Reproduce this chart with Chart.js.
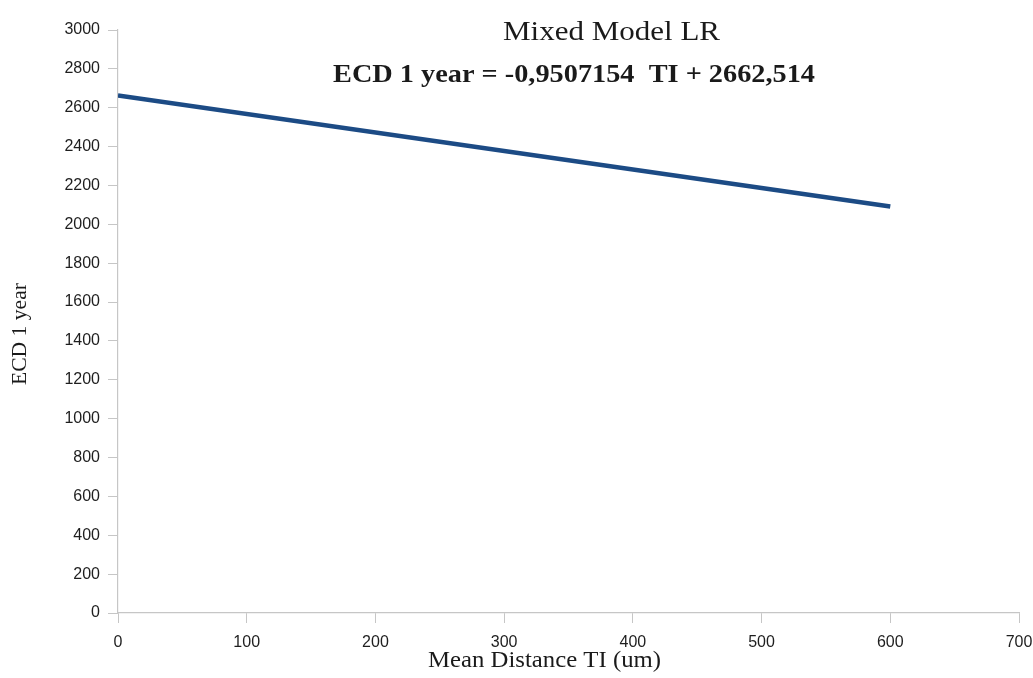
<!DOCTYPE html>
<html>
<head>
<meta charset="utf-8">
<title>Mixed Model LR</title>
<script src="https://cdn.jsdelivr.net/npm/chart.js@4/dist/chart.umd.min.js"></script>
<style>
  html, body { margin: 0; padding: 0; background: #ffffff; }
  #wrap { width: 1033px; height: 678px; }
</style>
</head>
<body>
<div id="wrap"><canvas id="chart" width="1033" height="678"></canvas></div>
<script>
// Fitted regression line: ECD 1 year vs mean distance TI (um)
const distanceTI = [0, 600];
const ecdOneYear = [2662.514, 2092.085];

const xTickStep = 100, xMax = 700;
const yTickStep = 200, yMax = 3000;

const chartTitle = 'Mixed Model LR';
const equationText = 'ECD 1 year = -0,9507154  TI + 2662,514';
const xAxisTitle = 'Mean Distance TI (um)';
const yAxisTitle = 'ECD 1 year';

const serif = '"Liberation Serif", "Times New Roman", serif';
const axisGrey = '#c6c6c6';

// Draw text horizontally scaled so it spans a given width
function drawSpanned(ctx, text, font, cx, baseline, span) {
  ctx.save();
  ctx.font = font;
  const w = ctx.measureText(text).width;
  const sx = span / w;
  ctx.translate(cx, baseline);
  ctx.scale(sx, 1);
  ctx.textAlign = 'center';
  ctx.textBaseline = 'alphabetic';
  ctx.fillText(text, 0, 0);
  ctx.restore();
}

const textPlugin = {
  id: 'chartTexts',
  afterDraw(chart) {
    const ctx = chart.ctx;
    ctx.save();
    ctx.fillStyle = '#1a1a1a';
    drawSpanned(ctx, chartTitle, '28px ' + serif, 611.5, 40, 217);
    drawSpanned(ctx, equationText, 'bold 25px ' + serif, 574, 82, 482);
    drawSpanned(ctx, xAxisTitle, '24px ' + serif, 544.5, 667, 233);
    // vertical axis title
    ctx.save();
    ctx.translate(26, 334);
    ctx.rotate(-Math.PI / 2);
    ctx.font = '20px ' + serif;
    const w = ctx.measureText(yAxisTitle).width;
    ctx.scale(102 / w, 1);
    ctx.textAlign = 'center';
    ctx.textBaseline = 'alphabetic';
    ctx.fillText(yAxisTitle, 0, 0);
    ctx.restore();
    ctx.restore();
  }
};

const tickFont = { family: '"Liberation Sans", Arial, sans-serif', size: 16 };
const plainLabel = (v) => String(v);

new Chart(document.getElementById('chart'), {
  type: 'scatter',
  data: {
    datasets: [{
      data: distanceTI.map((x, i) => ({ x: x, y: ecdOneYear[i] })),
      showLine: true,
      borderColor: '#1c4b85',
      backgroundColor: '#1c4b85',
      borderWidth: 4.5,
      pointRadius: 0,
      pointHoverRadius: 0,
      tension: 0
    }]
  },
  options: {
    responsive: false,
    animation: false,
    events: [],
    layout: { padding: { top: 30, right: 0, left: 0, bottom: 0 } },
    plugins: {
      legend: { display: false },
      tooltip: { enabled: false },
      title: { display: false }
    },
    scales: {
      x: {
        type: 'linear',
        min: 0,
        max: xMax,
        afterFit(scale) { scale.height = 65; scale.paddingRight = 14; scale.paddingLeft = 0; },
        ticks: { stepSize: xTickStep, color: '#1e1e1e', font: tickFont, padding: 10, maxRotation: 0, callback: plainLabel },
        grid: { display: true, drawOnChartArea: false, drawTicks: true, tickLength: 10, color: axisGrey, lineWidth: 1 },
        border: { display: true, color: axisGrey, width: 1.2 }
      },
      y: {
        type: 'linear',
        min: 0,
        max: yMax,
        afterFit(scale) { scale.width = 118; },
        ticks: { stepSize: yTickStep, color: '#1e1e1e', font: tickFont, padding: 8, callback: plainLabel },
        grid: { display: true, drawOnChartArea: false, drawTicks: true, tickLength: 10, color: axisGrey, lineWidth: 1 },
        border: { display: true, color: axisGrey, width: 1.2 }
      }
    }
  },
  plugins: [textPlugin]
});
</script>
</body>
</html>
